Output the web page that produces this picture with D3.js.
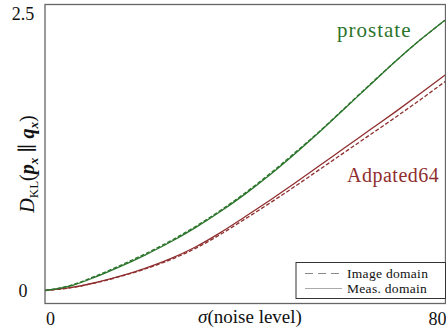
<!DOCTYPE html>
<html>
<head>
<meta charset="utf-8">
<script src="https://cdn.jsdelivr.net/npm/d3@7"></script>
<style>
  body { margin: 0; background: #fff; }
  svg text { font-family: "Liberation Serif", "DejaVu Serif", serif; }
</style>
</head>
<body>
<svg id="chart"></svg>
<script>
// noise level sigma and KL values
const sigma = [0, 5, 10, 15, 20, 25, 30, 35, 40, 45, 50, 55, 60, 65, 70, 75, 80];
const prostateMeas  = [0, 0.04, 0.12, 0.215, 0.32, 0.435, 0.565, 0.71, 0.87, 1.045, 1.235, 1.435, 1.645, 1.855, 2.065, 2.26, 2.44];
const prostateImage = [0, 0.045, 0.128, 0.225, 0.33, 0.445, 0.575, 0.72, 0.88, 1.055, 1.245, 1.44, 1.65, 1.86, 2.065, 2.26, 2.44];
const adaptedMeas   = [0, 0.025, 0.07, 0.13, 0.20, 0.285, 0.39, 0.52, 0.665, 0.815, 0.97, 1.13, 1.29, 1.45, 1.61, 1.775, 1.945];
const adaptedImage  = [0, 0.024, 0.068, 0.126, 0.194, 0.276, 0.378, 0.504, 0.645, 0.79, 0.94, 1.095, 1.25, 1.405, 1.56, 1.72, 1.885];
const xTicks = [0, 80];
const yTicks = [0, 2.5];
const legendLabels = ["Image domain", "Meas. domain"];

const width = 446, height = 330;
const frame = { left: 45, right: 445.5, top: 4.5, bottom: 303.5 };

const green = "#2b742b";
const red = "#8f2e2e";

const svg = d3.select("#chart")
    .attr("width", width)
    .attr("height", height);

const x = d3.scaleLinear().domain([0, 80]).range([45, 445]);
const y = d3.scaleLinear().domain([0, 2.5]).range([290.5, 13.5]);

const line = d3.line()
    .x((d, i) => x(sigma[i]))
    .y(d => y(d))
    .curve(d3.curveMonotoneX);

// curves
function drawCurve(values, color, dashed) {
    svg.append("path")
       .attr("d", line(values))
       .attr("fill", "none")
       .attr("stroke", color)
       .attr("stroke-width", 1.3)
       .attr("stroke-dasharray", dashed ? "4,2" : null);
}
drawCurve(adaptedMeas, red, false);
drawCurve(adaptedImage, red, true);
drawCurve(prostateMeas, green, false);
drawCurve(prostateImage, green, true);

// frame
svg.append("rect")
   .attr("x", frame.left)
   .attr("y", frame.top)
   .attr("width", frame.right - frame.left)
   .attr("height", frame.bottom - frame.top)
   .attr("fill", "none")
   .attr("stroke", "#666")
   .attr("stroke-width", 1.3);

// x axis
const xAxis = svg.append("g")
   .attr("transform", `translate(0,${frame.bottom})`)
   .call(d3.axisBottom(x).tickValues(xTicks).tickSize(0).tickFormat(d3.format("d")));
xAxis.select(".domain").remove();
xAxis.selectAll("text")
   .attr("y", 21.5)
   .attr("dy", null)
   .attr("dx", d => d === 0 ? 5 : -8)
   .attr("fill", "#111")
   .style("font-size", "18px");

// y axis
const yAxis = svg.append("g")
   .attr("transform", `translate(${frame.left},0)`)
   .call(d3.axisLeft(y).tickValues(yTicks).tickSize(0).tickFormat(d => d === 0 ? "0" : "2.5"));
yAxis.select(".domain").remove();
yAxis.selectAll("text")
   .attr("x", -22)
   .attr("text-anchor", "middle")
   .attr("dy", "0.34em")
   .attr("fill", "#111")
   .style("font-size", "18px");

// axis titles
const xt = svg.append("text")
   .attr("x", 250)
   .attr("y", 323)
   .attr("text-anchor", "middle")
   .attr("fill", "#111")
   .style("font-size", "19px");
xt.append("tspan").style("font-style", "italic").text("σ");
xt.append("tspan").text("(noise level)");

const yt = svg.append("text")
   .attr("transform", "translate(34,164) rotate(-90)")
   .attr("text-anchor", "middle")
   .attr("fill", "#111")
   .style("font-size", "20px");
yt.append("tspan").style("font-style", "italic").text("D");
yt.append("tspan").attr("dy", 4).style("font-size", "13px").text("KL");
yt.append("tspan").attr("dy", -4).text("(");
yt.append("tspan").style("font-style", "italic").style("font-weight", "bold").text("p");
yt.append("tspan").attr("dy", 4).style("font-size", "13px").style("font-style", "italic").style("font-weight", "bold").text("x");
yt.append("tspan").attr("dy", -4).text(" \u2225 ");
yt.append("tspan").style("font-style", "italic").style("font-weight", "bold").text("q");
yt.append("tspan").attr("dy", 4).style("font-size", "13px").style("font-style", "italic").style("font-weight", "bold").text("x");
yt.append("tspan").attr("dy", -4).text(")");

// series labels
svg.append("text")
   .attr("x", 337).attr("y", 37)
   .attr("fill", green)
   .style("font-size", "21px")
   .style("letter-spacing", "1px")
   .text("prostate");
svg.append("text")
   .attr("x", 347).attr("y", 182)
   .attr("fill", red)
   .style("font-size", "20px")
   .style("letter-spacing", "0.5px")
   .text("Adpated64");

// legend
const lg = svg.append("g");
lg.append("rect")
  .attr("x", 296).attr("y", 262.5)
  .attr("width", 149.5).attr("height", 36)
  .attr("fill", "#fff")
  .attr("stroke", "#333")
  .attr("stroke-width", 1);
legendLabels.forEach((label, i) => {
    const ly = 273.5 + i * 15;
    lg.append("line")
      .attr("x1", 305).attr("x2", 342)
      .attr("y1", ly).attr("y2", ly)
      .attr("stroke", i === 0 ? "#888" : "#aaa")
      .attr("stroke-width", 1.2)
      .attr("stroke-dasharray", i === 0 ? "8,5" : null);
    lg.append("text")
      .attr("x", 347).attr("y", ly + 4.5)
      .attr("fill", "#111")
      .style("font-size", "13.5px")
      .style("letter-spacing", "0.3px")
      .text(label);
});
</script>
</body>
</html>
